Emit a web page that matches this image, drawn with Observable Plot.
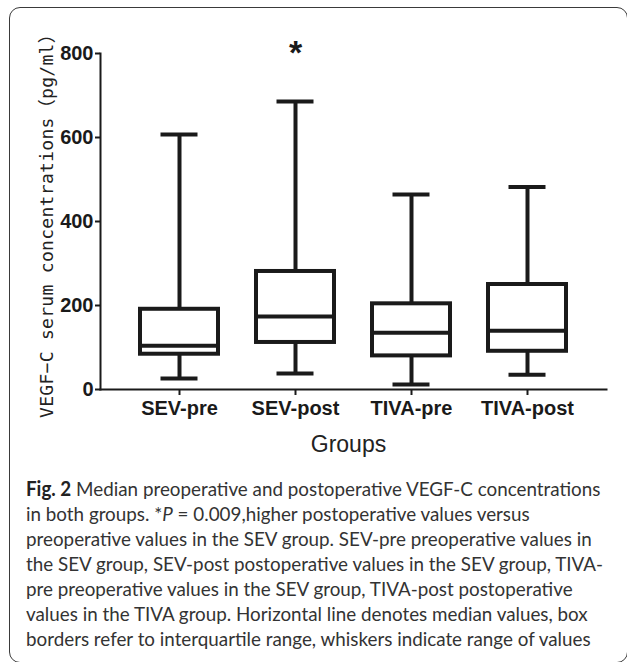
<!DOCTYPE html>
<html><head><meta charset="utf-8">
<script src="https://cdn.jsdelivr.net/npm/d3@7"></script>
<script src="https://cdn.jsdelivr.net/npm/@observablehq/plot@0.6"></script>
<style>
body{margin:0;background:#fff;width:627px;height:662px;overflow:hidden;position:relative;font-family:"Liberation Sans",Arial,sans-serif}
#border{position:absolute;left:9px;top:7px;width:619px;height:656px;border:1.5px solid #3a3a3a;border-radius:11px;box-sizing:border-box}
#chart{position:absolute;left:0;top:0}
#caption{position:absolute;left:26px;top:476px;width:max-content;font-family:Lato,"Open Sans",sans-serif;font-size:20px;line-height:25px;color:#333;white-space:nowrap;transform-origin:0 0}
#caption b{color:#222}
</style></head>
<body>
<div id="border"></div>
<div id="chart"></div>
<div id="caption"><b>Fig. 2</b> Median preoperative and postoperative VEGF-C concentrations<br>in both groups. *<i>P</i> = 0.009,higher postoperative values versus<br>preoperative values in the SEV group. SEV-pre preoperative values in<br>the SEV group, SEV-post postoperative values in the SEV group, TIVA-<br>pre preoperative values in the SEV group, TIVA-post postoperative<br>values in the TIVA group. Horizontal line denotes median values, box<br>borders refer to interquartile range, whiskers indicate range of values</div>
<script>
const groups = ["SEV-pre", "SEV-post", "TIVA-pre", "TIVA-post"];
const minV = [26, 38, 12, 35];
const q1V = [84, 112, 80, 91];
const medV = [104, 174, 135, 140];
const q3V = [191, 281, 204, 250];
const maxV = [607, 686, 464, 482];
const yTicks = [0, 200, 400, 600, 800];
const starGroups = ["SEV-post"];
const starY = [800];
const yLabel = "VEGF−C serum concentrations（pg/ml）";
const xLabel = "Groups";

const data = groups.map((g, i) => ({group: g, min: minV[i], q1: q1V[i], med: medV[i], q3: q3V[i], max: maxV[i]}));
const stars = starGroups.map((g, i) => ({group: g, y: starY[i]}));
const ink = "#1a1a1a";

const chart = Plot.plot({
  width: 627,
  height: 462,
  marginLeft: 100,
  marginRight: 21,
  marginTop: 53,
  marginBottom: 73,
  style: {fontFamily: "Liberation Sans, Arial, sans-serif", color: ink, background: "transparent"},
  x: {domain: groups, paddingInner: 0.33, paddingOuter: 0.346, label: null},
  y: {domain: [0, 800], label: null},
  marks: [
    Plot.ruleX(data, {x: "group", y1: "min", y2: "q1", stroke: ink, strokeWidth: 4}),
    Plot.ruleX(data, {x: "group", y1: "q3", y2: "max", stroke: ink, strokeWidth: 4}),
    Plot.barY(data, {x: "group", y1: "q1", y2: "q3", fill: "white", stroke: ink, strokeWidth: 4}),
    Plot.tickY(data, {x: "group", y: "med", stroke: ink, strokeWidth: 4}),
    Plot.tickY(data, {x: "group", y: "min", stroke: ink, strokeWidth: 4, inset: 20.5}),
    Plot.tickY(data, {x: "group", y: "max", stroke: ink, strokeWidth: 4, inset: 20.5}),
    Plot.frame({anchor: "left", stroke: ink, strokeWidth: 2}),
    Plot.frame({anchor: "bottom", stroke: ink, strokeWidth: 2}),
    Plot.axisY({ticks: yTicks, tickSize: 5, tickPadding: 2, fontSize: 20, fontWeight: "bold", strokeWidth: 2, label: null}),
    Plot.axisX({tickSize: 6, tickPadding: 5, fontSize: 20, fontWeight: "bold", strokeWidth: 2, label: null}),
    Plot.text(stars, {x: "group", y: "y", text: () => "*", fontSize: 34, fontWeight: "bold", lineAnchor: "middle", fill: ink}),
    Plot.text([xLabel], {frameAnchor: "bottom", text: d => d, dy: 55, dx: -5, lineAnchor: "middle", fontSize: 23, fill: "#222"}),
    Plot.text([yLabel], {frameAnchor: "left", text: d => d, rotate: -90, dx: -48, textAnchor: "middle", lineAnchor: "bottom", fontFamily: "DejaVu Sans Mono, Noto Sans CJK SC, monospace", fontSize: 18, fill: "#222"})
  ]
});
document.getElementById("chart").appendChild(chart);

function fitLabel() {
  const t = [...chart.querySelectorAll("text")].find(e => e.textContent === yLabel);
  if (!t) return;
  t.style.letterSpacing = "0px";
  const len = t.getComputedTextLength();
  const n = [...yLabel].length;
  t.style.letterSpacing = ((393 - len) / n) + "px";
}
function fitCaption() {
  const cap = document.getElementById("caption");
  cap.style.transform = "none";
  const w = cap.getBoundingClientRect().width;
  cap.style.transform = `scaleX(${577 / w})`;
}
function fitAll() { fitLabel(); fitCaption(); }
fitAll();
if (document.fonts && document.fonts.ready) document.fonts.ready.then(fitAll);
</script>
</body></html>
